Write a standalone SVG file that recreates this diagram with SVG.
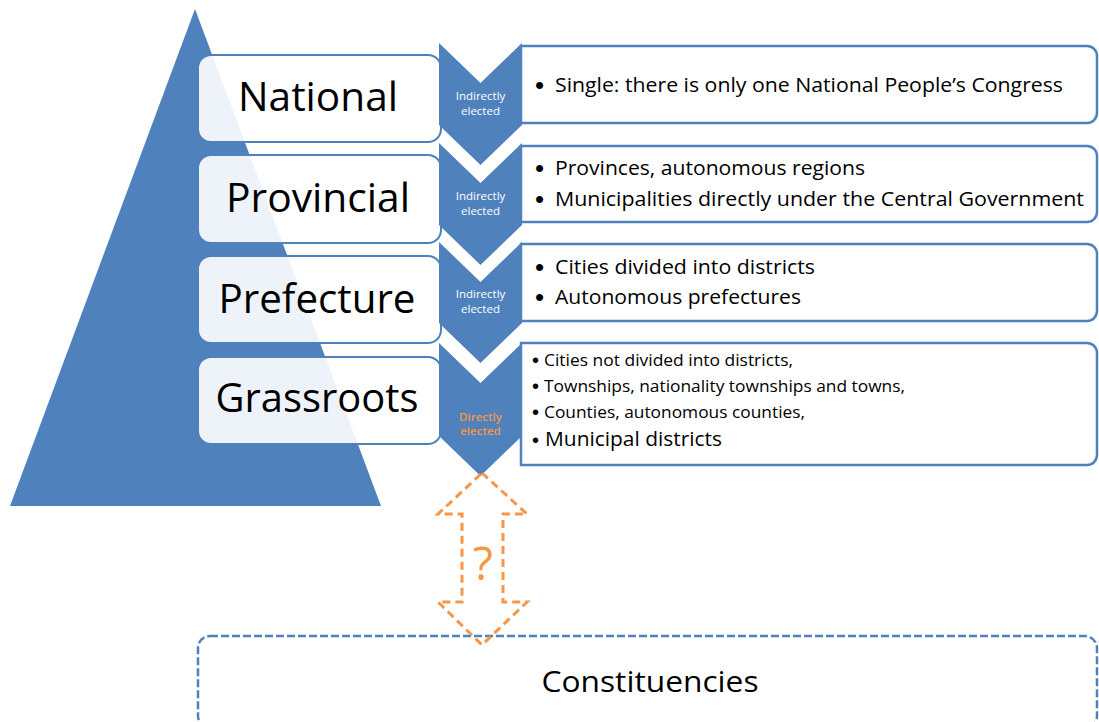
<svg xmlns="http://www.w3.org/2000/svg" width="1099" height="722" viewBox="0 0 1099 722">
  <style>
    text { font-family: "Open Sans", "Liberation Sans", sans-serif; }
    .tier { fill: #ffffff; fill-opacity: 0.9; stroke: #4F81BD; stroke-width: 2; }
    .tier-label { font-size: 40px; fill: #000000; text-anchor: middle; }
    .chev { fill: #4F81BD; }
    .chev-label { font-size: 11.5px; fill: #ffffff; text-anchor: middle; }
    .chev-label.direct { fill: #F79646; font-weight: 600; }
    .detail { fill: #ffffff; stroke: #4F81BD; stroke-width: 2.5; }
    .item { font-size: 20px; fill: #000000; }
    .item-sm { font-size: 15.5px; fill: #000000; }
    .dot { font-size: 26px; fill: #000000; font-family: "Liberation Sans", sans-serif; }
    .dot-sm { font-size: 20px; fill: #000000; font-family: "Liberation Sans", sans-serif; }
    .dashed-box { fill: #ffffff; stroke: #4F81BD; stroke-width: 2.5; stroke-dasharray: 8 3; }
    .link { fill: none; stroke: #F79646; stroke-width: 3; stroke-dasharray: 8 5; }
  </style>

  <!-- pyramid backdrop -->
  <polygon id="pyramid" points="195,9 381,506 10,506" fill="#4F81BD"/>

  <!-- tier labels -->
  <g id="node-national">
    <rect class="tier" x="198" y="55" width="243" height="87" rx="13"/>
    <text class="tier-label" x="318" y="111" textLength="160" lengthAdjust="spacingAndGlyphs">National</text>
  </g>
  <g id="node-provincial">
    <rect class="tier" x="198" y="155" width="243" height="88" rx="13"/>
    <text class="tier-label" x="318" y="212" textLength="184" lengthAdjust="spacingAndGlyphs">Provincial</text>
  </g>
  <g id="node-prefecture">
    <rect class="tier" x="198" y="256" width="243" height="87" rx="13"/>
    <text class="tier-label" x="317" y="313" textLength="197" lengthAdjust="spacingAndGlyphs">Prefecture</text>
  </g>
  <g id="node-grassroots">
    <rect class="tier" x="198" y="357" width="243" height="87" rx="13"/>
    <text class="tier-label" x="317" y="412" textLength="203" lengthAdjust="spacingAndGlyphs">Grassroots</text>
  </g>

  <!-- election chevrons -->
  <g id="node-chevron-1">
    <polygon class="chev" points="439,43 480.5,83 522,43 522,125 480.5,165 439,125"/>
    <text class="chev-label" x="480.5" y="100">Indirectly</text>
    <text class="chev-label" x="480.5" y="115">elected</text>
  </g>
  <g id="node-chevron-2">
    <polygon class="chev" points="439,143 480.5,183 522,143 522,225 480.5,265 439,225"/>
    <text class="chev-label" x="480.5" y="200">Indirectly</text>
    <text class="chev-label" x="480.5" y="215">elected</text>
  </g>
  <g id="node-chevron-3">
    <polygon class="chev" points="439,242 480.5,282 522,242 522,323 480.5,363 439,323"/>
    <text class="chev-label" x="480.5" y="298">Indirectly</text>
    <text class="chev-label" x="480.5" y="313">elected</text>
  </g>
  <g id="node-chevron-4">
    <polygon class="chev" points="439,343 480.5,383 522,343 522,436 480.5,476 439,436"/>
    <text class="chev-label direct" x="480.5" y="421">Directly</text>
    <text class="chev-label direct" x="480.5" y="435">elected</text>
  </g>

  <!-- detail panels -->
  <g id="node-detail-national">
    <path class="detail" d="M521,46 H1087 A10,10 0 0 1 1097,56 V113 A10,10 0 0 1 1087,123 H521 Z"/>
    <text class="dot" x="535" y="94">•</text>
    <text class="item" x="555" y="92" textLength="508" lengthAdjust="spacingAndGlyphs">Single: there is only one National People’s Congress</text>
  </g>
  <g id="node-detail-provincial">
    <path class="detail" d="M521,146 H1087 A10,10 0 0 1 1097,156 V212 A10,10 0 0 1 1087,222 H521 Z"/>
    <text class="dot" x="535" y="177">•</text>
    <text class="item" x="555" y="175" textLength="310" lengthAdjust="spacingAndGlyphs">Provinces, autonomous regions</text>
    <text class="dot" x="535" y="208">•</text>
    <text class="item" x="555" y="206" textLength="529" lengthAdjust="spacingAndGlyphs">Municipalities directly under the Central Government</text>
  </g>
  <g id="node-detail-prefecture">
    <path class="detail" d="M521,244 H1087 A10,10 0 0 1 1097,254 V311 A10,10 0 0 1 1087,321 H521 Z"/>
    <text class="dot" x="535" y="276">•</text>
    <text class="item" x="555" y="274" textLength="260" lengthAdjust="spacingAndGlyphs">Cities divided into districts</text>
    <text class="dot" x="535" y="306">•</text>
    <text class="item" x="555" y="304" textLength="246" lengthAdjust="spacingAndGlyphs">Autonomous prefectures</text>
  </g>
  <g id="node-detail-grassroots">
    <path class="detail" d="M521,343 H1087 A10,10 0 0 1 1097,353 V455 A10,10 0 0 1 1087,465 H521 Z"/>
    <text class="dot-sm" x="532" y="367">•</text>
    <text class="item-sm" x="544" y="366" textLength="249" lengthAdjust="spacingAndGlyphs">Cities not divided into districts,</text>
    <text class="dot-sm" x="532" y="393">•</text>
    <text class="item-sm" x="544" y="392" textLength="361" lengthAdjust="spacingAndGlyphs">Townships, nationality townships and towns,</text>
    <text class="dot-sm" x="532" y="419">•</text>
    <text class="item-sm" x="544" y="418" textLength="261" lengthAdjust="spacingAndGlyphs">Counties, autonomous counties,</text>
    <text class="dot-sm" x="532" y="447">•</text>
    <text class="item" x="545" y="446" textLength="177" lengthAdjust="spacingAndGlyphs">Municipal districts</text>
  </g>

  <!-- constituencies -->
  <g id="node-constituencies">
    <rect class="dashed-box" x="198" y="636" width="899" height="92" rx="12"/>
    <text x="650" y="692" font-size="30" text-anchor="middle" fill="#000000" textLength="217" lengthAdjust="spacingAndGlyphs">Constituencies</text>
  </g>

  <!-- uncertain link between grassroots and constituencies -->
  <g id="connectors">
    <polygon class="link" points="482,473 527,514 503,514 503,602 527,602 482,645 438,602 462,602 462,514 438,514"/>
    <text x="483" y="580" font-size="46" text-anchor="middle" fill="#F79646">?</text>
  </g>
</svg>
